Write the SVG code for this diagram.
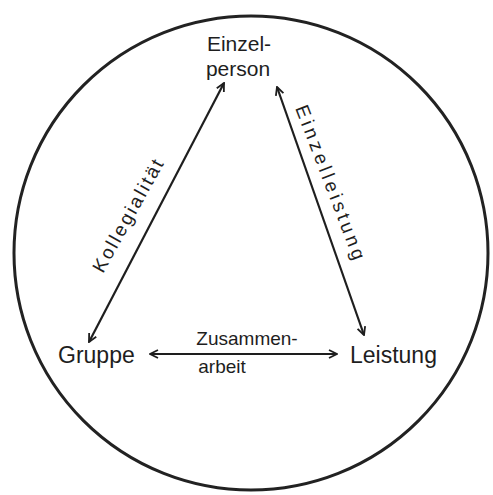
<svg xmlns="http://www.w3.org/2000/svg" width="493" height="495" viewBox="0 0 493 495">
<style>
text{font-family:"Liberation Sans","DejaVu Sans",sans-serif;fill:#1e1e1e;font-size:23px}
.s{font-size:19px}
.n{font-size:21px}
.ln{stroke:#1e1e1e;stroke-width:2.2;fill:none}
</style>
<defs>
<marker id="ah" viewBox="0 0 10 10" refX="9" refY="5" markerWidth="10" markerHeight="10" markerUnits="userSpaceOnUse" orient="auto-start-reverse">
<path d="M1,1 L9,5 L1,9" fill="none" stroke="#1e1e1e" stroke-width="1.8"/>
</marker>
</defs>
<rect width="493" height="495" fill="#fff"/>
<circle cx="251" cy="253" r="237" fill="none" stroke="#222" stroke-width="3"/>
<g id="connectors">
<line class="ln" x1="224" y1="83" x2="89" y2="342" marker-start="url(#ah)" marker-end="url(#ah)"/>
<line class="ln" x1="277" y1="87" x2="364" y2="335" marker-start="url(#ah)" marker-end="url(#ah)"/>
<line class="ln" x1="150" y1="354" x2="337" y2="354" marker-start="url(#ah)" marker-end="url(#ah)"/>
<text class="s" transform="translate(103,274) rotate(-61)" textLength="126">Kollegialität</text>
<text class="s" transform="translate(295,108) rotate(69)" textLength="164">Einzelleistung</text>
<text class="s" x="247" y="345" text-anchor="middle">Zusammen-</text>
<text class="s" x="222" y="373" text-anchor="middle">arbeit</text>
</g>
<g id="einzelperson">
<text class="n" x="239" y="51" text-anchor="middle">Einzel-</text>
<text class="n" x="238" y="76" text-anchor="middle">person</text>
</g>
<g id="gruppe">
<text x="58" y="363">Gruppe</text>
</g>
<g id="leistung">
<text x="350" y="363">Leistung</text>
</g>
</svg>
